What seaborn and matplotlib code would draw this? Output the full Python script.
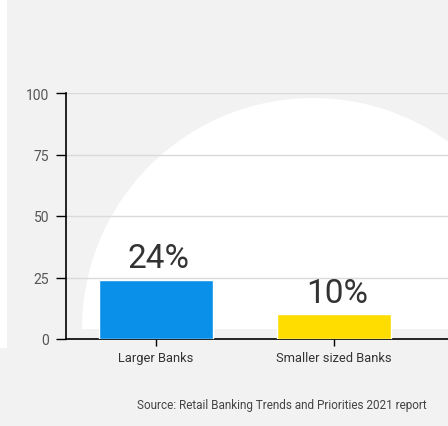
import matplotlib
matplotlib.use("Agg")
import matplotlib.pyplot as plt
from matplotlib.patches import Wedge, Rectangle
import seaborn as sns

categories = ["Larger Banks", "Smaller sized Banks"]
values = [24, 10]
value_labels = ["24%", "10%"]
bar_colors = ["#0a90e8", "#ffdd00"]
y_ticks = [0, 25, 50, 75, 100]
source_text = "Source: Retail Banking Trends and Priorities 2021 report"

sns.set_style("white")
plt.rcParams["font.family"] = ["Liberation Sans Narrow", "Roboto", "DejaVu Sans"]

fig = plt.figure(figsize=(4.48, 4.27), dpi=100)
fig.patch.set_facecolor("#f2f2f2")

# background decoration: white half circle and thin white strip on the left
fig.patches.append(Wedge((3.13, 0.97), 2.31, 0, 180, transform=fig.dpi_scale_trans,
                         facecolor="white", edgecolor="none", zorder=-5))
fig.patches.append(Rectangle((0, 0.78), 0.07, 3.6, transform=fig.dpi_scale_trans,
                             facecolor="white", edgecolor="none", zorder=-5))

ax = fig.add_axes([66 / 448, 87 / 427, 1 - 66 / 448, 246 / 427])
ax.patch.set_alpha(0)

sns.barplot(x=categories, y=values, hue=categories, palette=bar_colors,
            legend=False, width=0.64, saturation=1, ax=ax, zorder=3)

for i, (v, lab) in enumerate(zip(values, value_labels)):
    ax.annotate(lab, (i, v), xytext=(2, 4), textcoords="offset points",
                ha="center", va="bottom", fontsize=24, color="#333333",
                family="Roboto")

ax.set_ylim(0, 100)
ax.set_xlim(-0.506, 1.64)
ax.set_yticks(y_ticks)
ax.yaxis.grid(True, color="#dadada", linewidth=1)
ax.set_axisbelow(True)
ax.set_xlabel("")
ax.set_ylabel("")

for s in ["top", "right"]:
    ax.spines[s].set_visible(False)
for s in ["left", "bottom"]:
    ax.spines[s].set_color("black")
    ax.spines[s].set_linewidth(1.2)

ax.tick_params(axis="y", length=7, width=1, color="black", labelsize=10,
               labelcolor="#555555", left=True, pad=5)
ax.tick_params(axis="x", length=5, width=1, color="black", labelsize=9.3,
               labelcolor="#333333", bottom=True, pad=4)

fig.text(282 / 448, 1 - 406 / 427, source_text, ha="center", va="center",
         fontsize=8.5, color="#444444")

fig.savefig("out.png", dpi=100, facecolor=fig.get_facecolor())
